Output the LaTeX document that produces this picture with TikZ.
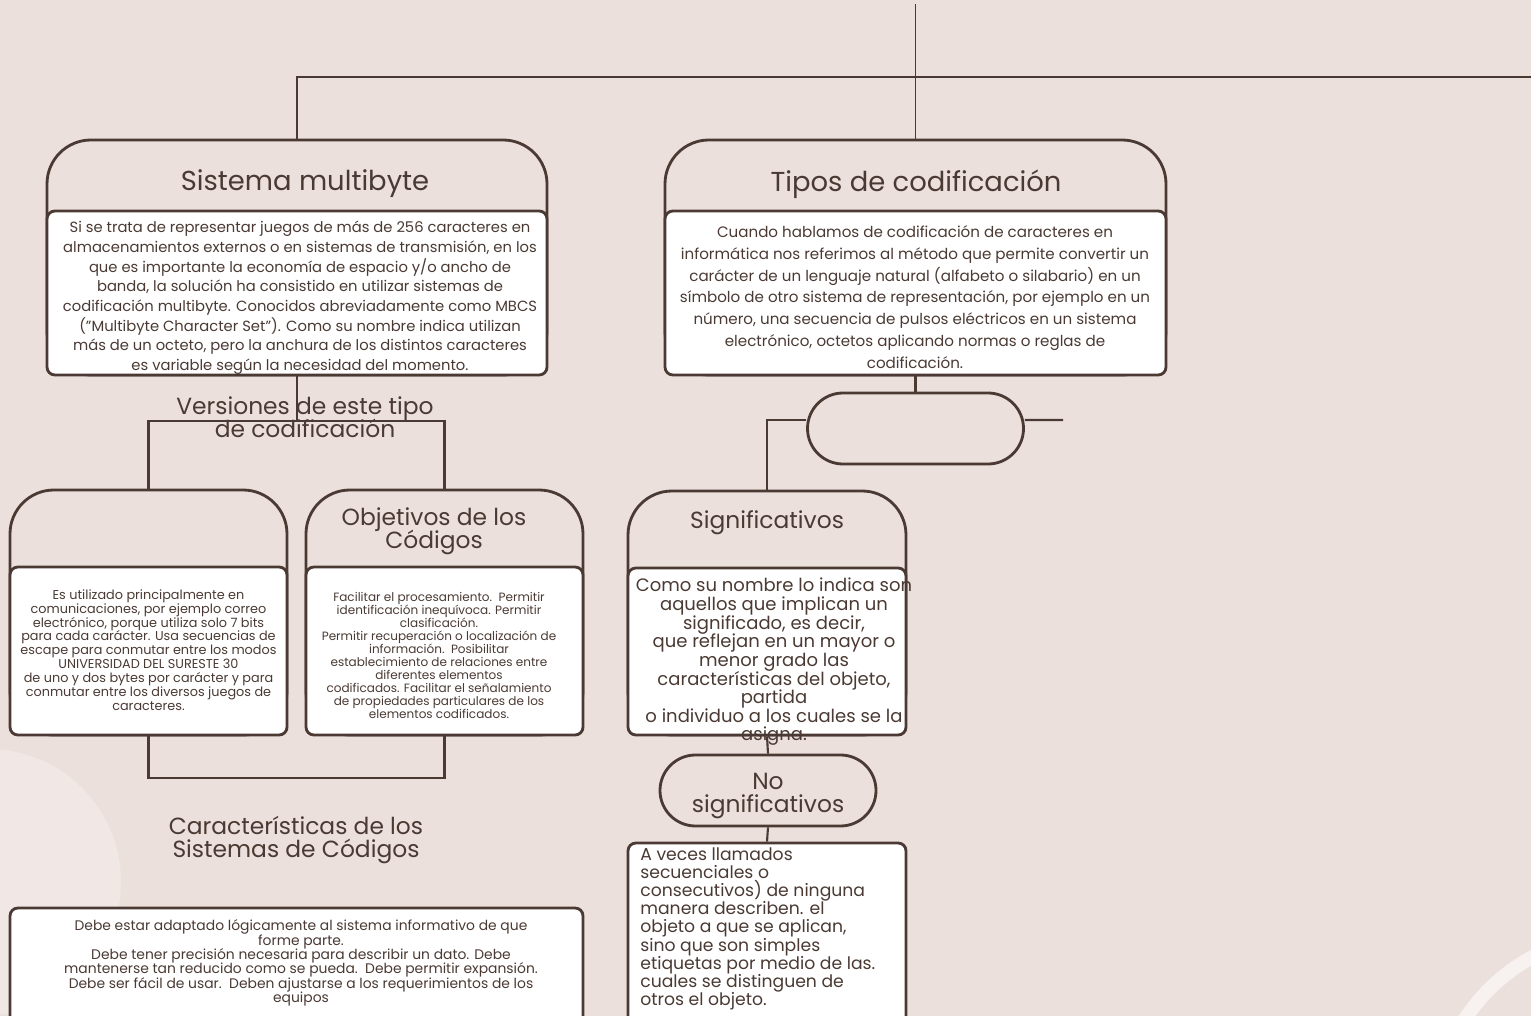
\documentclass[tikz,border=0pt]{standalone}
\usepackage{fontspec}
\setmainfont{Poppins}
\usetikzlibrary{shapes.misc}
\definecolor{paper}{HTML}{EBE0DC}
\definecolor{paperlight}{HTML}{F1E8E5}
\definecolor{ringcol}{HTML}{F7F1EF}
\definecolor{ink}{HTML}{4A3A33}
\def\pu{0.02cm}
\newcommand{\fs}[2]{\fontsize{#1pt}{#2pt}\selectfont\lineskiplimit=-20pt\relax}
\tikzset{
  hdr/.style={draw=ink, line width=1.6pt, rounded corners=25pt, inner sep=0pt},
  bdy/.style={draw=ink, line width=1.6pt, fill=white, rounded corners=4.5pt, inner sep=0pt},
  pill/.style={draw=ink, line width=1.6pt, rounded rectangle, inner sep=0pt,
    minimum width=216*\pu, minimum height=71*\pu},
  con/.style={draw=ink, line width=1.2pt},
  txt/.style={text=ink, align=center, inner sep=0pt},
}
\begin{document}
\begin{tikzpicture}[x=\pu, y=-\pu]
			%%%%% START %%%%%
			\useasboundingbox (0,0) rectangle (1531,1016);
			\clip (0,0) rectangle (1531,1016);
			\fill[paper] (0,0) rectangle (1531,1016);
			\fill[paperlight] (-12,882) circle[radius=2.66cm];
			\draw[ringcol, line width=7.9pt] (1620,1120) circle[radius=3.7cm];
			
			\coordinate (top) at (915.5,4);
			\coordinate (hr) at (1531,77);
			\coordinate (pr) at (1063,420);
			
			% Sistema multibyte
			\node[hdr, minimum width=500*\pu, minimum height=235*\pu] (smh) at (297,257.5) {};
			\node[bdy, minimum width=500*\pu, minimum height=164*\pu] (smb) at (297,293) {};
			\node[txt, font=\fs{15.6}{18}] (smt) at (305,184) {Sistema multibyte};
			\node[txt, font=\fs{8.4}{11.2}] (smx) at (300,298) {Si se trata de representar juegos de más de 256 caracteres en\\
				almacenamientos externos o en sistemas de transmisión, en los\\
				que es importante la economía de espacio y/o ancho de\\
				banda, la solución ha consistido en utilizar sistemas de\\
				codificación multibyte. Conocidos abreviadamente como MBCS\\
				("Multibyte Character Set"). Como su nombre indica utilizan\\
				más de un octeto, pero la anchura de los distintos caracteres\\
				es variable según la necesidad del momento.};
			
			% Tipos de codificacion
			\node[hdr, minimum width=501*\pu, minimum height=235*\pu] (tch) at (915.5,257.5) {};
			\node[bdy, minimum width=501*\pu, minimum height=164*\pu] (tcb) at (915.5,293) {};
			\node[txt, font=\fs{15.6}{18}] (tct) at (916,184) {Tipos de codificación};
			\node[txt, font=\fs{8.6}{12.4}] (tcx) at (915,297) {Cuando hablamos de codificación de caracteres en\\
				informática nos referimos al método que permite convertir un\\
				carácter de un lenguaje natural (alfabeto o silabario) en un\\
				símbolo de otro sistema de representación, por ejemplo en un\\
				número, una secuencia de pulsos eléctricos en un sistema\\
				electrónico, octetos aplicando normas o reglas de\\
				codificación.};
			\node[pill] (pill) at (915.5,428.5) {};
			
			% Versiones
			\node[txt, font=\fs{13.3}{13.3}] (ver) at (305,417) {Versiones de este tipo\\de codificación};
			\node[hdr, minimum width=277*\pu, minimum height=245*\pu] (esh) at (148.5,612.5) {};
			\node[bdy, minimum width=277*\pu, minimum height=168*\pu] (esb) at (148.5,651) {};
			\node[txt, font=\fs{7.3}{7.9}] (esx) at (148.5,650) {Es utilizado principalmente en\\
				comunicaciones, por ejemplo correo\\
				electrónico, porque utiliza solo 7 bits\\
				para cada carácter. Usa secuencias de\\
				escape para conmutar entre los modos\\
				UNIVERSIDAD DEL SURESTE 30\\
				de uno y dos bytes por carácter y para\\
				conmutar entre los diversos juegos de\\
				caracteres.};
			
			\node[hdr, minimum width=277*\pu, minimum height=245*\pu] (obh) at (444.5,612.5) {};
			\node[bdy, minimum width=277*\pu, minimum height=168*\pu] (obb) at (444.5,651) {};
			\node[txt, font=\fs{13.3}{13.3}] (obt) at (434,531) {Objetivos de los\\Códigos};
			\node[txt, font=\fs{6.85}{7.4}] (obx) at (439,655) {Facilitar el procesamiento.\ \ Permitir\\
				identificación inequívoca. Permitir\\
				clasificación.\\
				Permitir recuperación o localización de\\
				información.\ \ Posibilitar\\
				establecimiento de relaciones entre\\
				diferentes elementos\\
				codificados. Facilitar el señalamiento\\
				de propiedades particulares de los\\
				elementos codificados.};
			
			\node[txt, font=\fs{13.3}{13.3}] (car) at (296,840) {Características de los\\Sistemas de Códigos};
			\node[bdy, minimum width=573*\pu, minimum height=200*\pu] (chb) at (296.5,1008) {};
			\node[txt, font=\fs{7.9}{8.2}] (chx) at (301,963) {Debe estar adaptado lógicamente al sistema informativo de que\\
				forme parte.\\
				Debe tener precisión necesaria para describir un dato. Debe\\
				mantenerse tan reducido como se pueda.\ \ Debe permitir expansión.\\
				Debe ser fácil de usar.\ \ Deben ajustarse a los requerimientos de los\\
				equipos};
			
			% Significativos
			\node[hdr, minimum width=278*\pu, minimum height=244*\pu] (sgh) at (767,613) {};
			\node[bdy, minimum width=278*\pu, minimum height=167*\pu] (sgb) at (767,651.5) {};
			\node[txt, font=\fs{13.3}{13.3}] (sgt) at (767,523) {Significativos};
			\node[txt, font=\fs{10.25}{10.6}] (sgx) at (774,662) {Como su nombre lo indica son\\
				aquellos que implican un\\
				significado, es decir,\\
				que reflejan en un mayor o\\
				menor grado las\\
				características del objeto,\\
				partida\\
				o individuo a los cuales se la\\
				asigna.};
			
			\node[pill] (nsp) at (768,790.5) {};
			\node[txt, font=\fs{13.3}{13.3}] (nst) at (768,796) {No\\significativos};
			\node[bdy, minimum width=278*\pu, minimum height=200*\pu] (nsb) at (767,943) {};
			\node[txt, font=\fs{9.8}{10.35}, align=left, anchor=north west] (nsx) at (640,847) {A veces llamados\\
				secuenciales o\\
				consecutivos) de ninguna\\
				manera describen. el\\
				objeto a que se aplican,\\
				sino que son simples\\
				etiquetas por medio de las.\\
				cuales se distinguen de\\
				otros el objeto.};
			
			% connectors
			\draw[ink, line width=0.8pt] (top) -- (tch.north);
			\draw[con, line width=1.6pt] (smh.north) |- (hr);
			\draw[con] (smh.south) -- ++(0,45) coordinate (vj);
			\draw[con] (esh.north) |- (vj) -| (obh.north);
			\draw[con] (esb.south) -- ++(0,42) -| (obb.south);
			\draw[con] (tcb.south) -- (pill.north);
			\draw[con] (sgh.north) |- ([yshift=0.17cm]pill.west);
			\draw[con] ([yshift=0.17cm]pill.east) -- (pr);
			\draw[con] (sgb.south) -- (nsp.north);
			\draw[con] (nsp.south) -- (nsb.north);
			%%%%% END %%%%%
\end{tikzpicture}
\end{document}
